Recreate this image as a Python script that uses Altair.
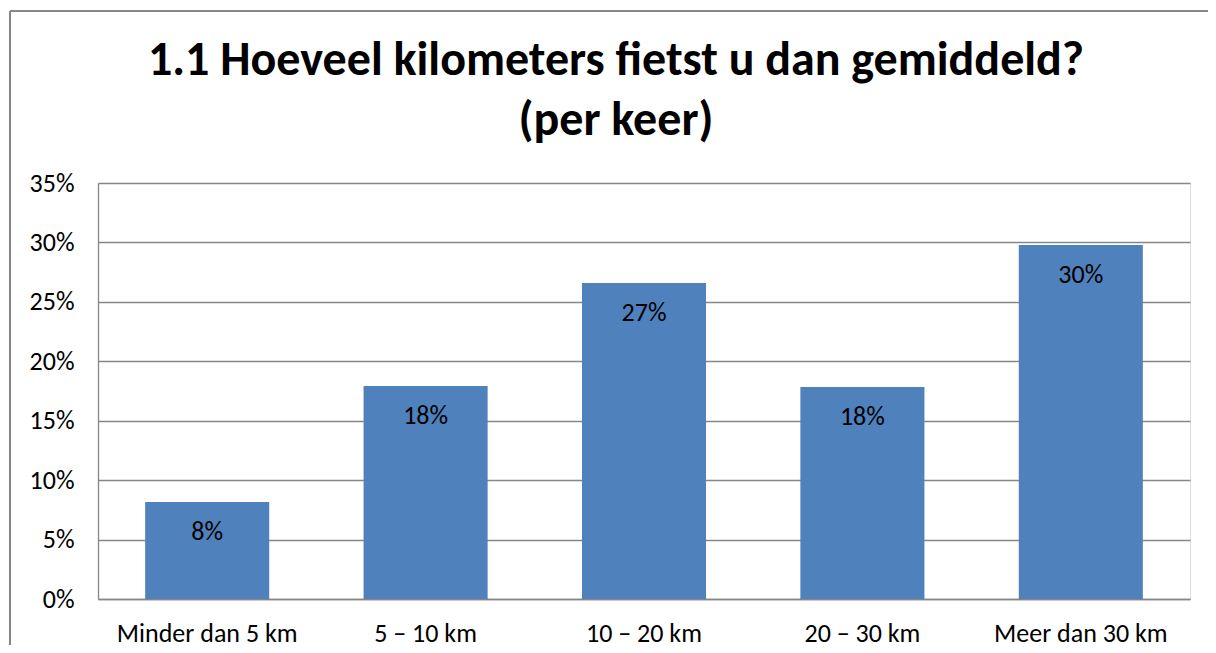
import altair as alt
import pandas as pd

title_lines = ["1.1 Hoeveel kilometers fietst u dan gemiddeld?", "(per keer)"]
categories = ["Minder dan 5 km", "5 – 10 km", "10 – 20 km", "20 – 30 km", "Meer dan 30 km"]
values = [0.0816, 0.1792, 0.2659, 0.1784, 0.2978]
labels = ["8%", "18%", "27%", "18%", "30%"]
y_ticks = [0, 0.05, 0.10, 0.15, 0.20, 0.25, 0.30, 0.35]

df = pd.DataFrame({"cat": categories, "val": values, "lbl": labels})
title_df = pd.DataFrame({"t": title_lines, "line": [0, 1]})

FONT = "Carlito, Liberation Sans Narrow, Open Sans, sans-serif"
GRID = "#868686"
FS = 26

base = alt.Chart(df)

x_enc = alt.X(
    "cat:N",
    sort=categories,
    title=None,
    scale=alt.Scale(paddingInner=0.432, paddingOuter=0.216),
    axis=alt.Axis(
        labelAngle=0,
        labelFont=FONT,
        labelFontSize=FS,
        labelColor="#000000",
        labelPadding=21,
        labelLimit=400,
        ticks=False,
        domainColor=GRID,
        domainWidth=1.3,
        grid=False,
    ),
)
y_enc = alt.Y(
    "val:Q",
    title=None,
    scale=alt.Scale(domain=[0, 0.35], nice=False),
    axis=alt.Axis(
        values=y_ticks,
        format=".0%",
        labelFont=FONT,
        labelFontSize=FS,
        labelColor="#000000",
        labelPadding=24,
        ticks=False,
        domainColor=GRID,
        domainWidth=1.3,
        grid=True,
        gridColor=GRID,
        gridWidth=1.3,
    ),
)

bars = base.mark_bar(color="#4F81BD").encode(x=x_enc, y=y_enc)

text = base.mark_text(
    font=FONT, fontSize=FS, color="#000000", baseline="alphabetic", dy=38
).encode(x=alt.X("cat:N", sort=categories), y=alt.Y("val:Q"), text="lbl:N")

frame_left = base.mark_rule(color=GRID, strokeWidth=1.3).encode(
    x=alt.value(-88), y=alt.value(-172), y2=alt.value(480)
)
frame_top = base.mark_rule(color=GRID, strokeWidth=1.3).encode(
    x=alt.value(-88), x2=alt.value(1130), y=alt.value(-172)
)

title1 = alt.Chart(title_df).transform_filter("datum.line == 0").mark_text(
    font=FONT, fontSize=48, fontWeight="bold", color="#000000",
    align="center", baseline="alphabetic",
).encode(x=alt.value(518), y=alt.value(-108), text="t:N")
title2 = alt.Chart(title_df).transform_filter("datum.line == 1").mark_text(
    font=FONT, fontSize=48, fontWeight="bold", color="#000000",
    align="center", baseline="alphabetic",
).encode(x=alt.value(518), y=alt.value(-48), text="t:N")

chart = (
    alt.layer(frame_left, frame_top, bars, text, title1, title2)
    .properties(
        width=1092,
        height=416,
        autosize=alt.AutoSizeParams(type="none"),
        padding={"left": 90, "top": 175, "right": 18, "bottom": 46},
    )
    .configure_view(stroke=None)
    .configure(background="white")
)

chart.save("out.html", embed_options={"renderer": "svg", "actions": False})
